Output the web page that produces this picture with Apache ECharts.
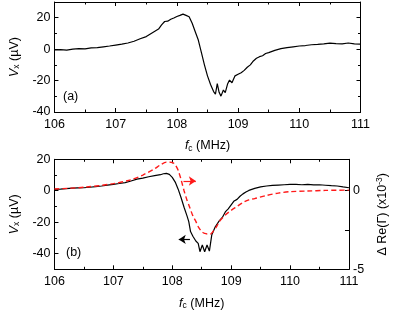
<!DOCTYPE html>
<html><head><meta charset="utf-8">
<script src="https://cdn.jsdelivr.net/npm/echarts@6/dist/echarts.min.js"></script>
<style>html,body{margin:0;padding:0;background:#fff}#c{width:397px;height:316px}</style>
</head><body><div id="c"></div>
<script>
// Panel (a): Vx (µV) vs fc (MHz)
var topFreq = [106.00,106.10,106.20,106.30,106.40,106.50,106.60,106.70,106.80,106.90,107.00,107.10,107.20,107.30,107.40,107.50,107.60,107.70,107.75,107.80,107.85,107.90,107.95,108.00,108.05,108.10,108.15,108.20,108.25,108.30,108.35,108.40,108.45,108.50,108.55,108.60,108.63,108.66,108.69,108.72,108.76,108.79,108.83,108.86,108.90,108.95,109.00,109.05,109.10,109.15,109.20,109.25,109.30,109.35,109.40,109.45,109.50,109.60,109.70,109.80,109.90,110.00,110.10,110.20,110.30,110.40,110.50,110.60,110.70,110.80,110.90,111.00];
var topVx = [-0.5,-0.3,-0.6,0.0,0.3,0.2,0.8,1.0,1.5,2.0,2.6,3.2,3.9,5.0,6.6,8.0,10.5,12.8,15.5,17.6,17.8,19.0,19.8,20.8,21.5,22.3,21.5,20.6,16.5,11.1,5.8,-2.0,-10.0,-17.0,-22.5,-27.0,-28.6,-22.0,-27.5,-29.9,-26.0,-27.7,-22.0,-19.7,-21.4,-17.0,-16.0,-15.0,-13.5,-11.5,-10.0,-7.5,-5.8,-4.8,-4.2,-2.8,-2.2,-0.8,0.3,1.0,1.5,2.0,2.3,2.8,3.0,3.3,3.8,3.5,3.4,3.9,3.3,3.2];

// Panel (b): measured Vx (µV)
var botFreq = [106.00,106.10,106.20,106.30,106.40,106.50,106.60,106.70,106.80,106.90,107.00,107.10,107.20,107.30,107.40,107.50,107.60,107.70,107.80,107.85,107.90,107.95,108.00,108.05,108.10,108.15,108.20,108.25,108.28,108.31,108.35,108.40,108.44,108.47,108.51,108.55,108.59,108.63,108.67,108.73,108.80,108.85,108.90,108.95,109.00,109.05,109.10,109.15,109.20,109.25,109.30,109.40,109.50,109.60,109.70,109.80,109.90,110.00,110.10,110.20,110.30,110.40,110.50,110.60,110.70,110.80,110.90,111.00];
var botVx = [0.9,1.0,1.4,1.6,1.8,1.9,2.2,2.6,3.0,3.6,4.1,4.6,5.2,6.2,7.4,8.0,8.9,9.6,10.2,10.8,11.0,10.4,8.5,5.5,1.0,-4.5,-10.5,-16.0,-19.7,-26.0,-29.0,-32.0,-33.5,-38.8,-34.5,-38.8,-34.5,-38.4,-28.2,-22.9,-19.0,-17.0,-13.5,-11.5,-9.0,-6.5,-5.5,-3.5,-2.0,-0.8,0.2,1.5,2.5,3.0,3.4,3.6,3.8,4.0,4.1,3.8,4.0,3.7,3.8,3.5,3.2,3.0,2.4,1.9];

// Panel (b): calculated Δ Re(Γ) (x10^-3)
var redFreq = [106.0,106.5,107.0,107.3,107.5,107.7,107.8,107.9,108.0,108.05,108.1,108.15,108.2,108.25,108.3,108.35,108.4,108.45,108.5,108.55,108.6,108.65,108.7,108.75,108.8,108.9,109.0,109.1,109.2,109.3,109.4,109.6,109.8,110.0,110.3,110.6,111.0];
var redRe = [0.11,0.22,0.45,0.7,1.0,1.4,1.65,1.82,1.8,1.65,1.3,0.7,0.0,-0.6,-1.1,-1.6,-1.95,-2.35,-2.6,-2.72,-2.75,-2.75,-2.55,-2.3,-1.95,-1.55,-1.25,-1.0,-0.75,-0.58,-0.5,-0.3,-0.15,-0.06,-0.02,0.02,0.04];

var xTicks = [106,107,108,109,110,111];
var vTicks = [-40,-20,0,20];
var reTicks = [-5,0];

function zip(a,b){return a.map(function(v,i){return [v,b[i]];});}

var FONT = 'Liberation Sans';
var axLine = {show: true, onZero:false, lineStyle: {color: '#000', width: 1}};
function xAx(grid, pos, labels){
  var a = {type:'value', gridIndex:grid, position:pos, min:106, max:111, interval:1,
    axisLine: axLine, splitLine:{show:false},
    axisTick:{show:true, inside:true, length:4, lineStyle:{color:'#000'}},
    minorTick:{show:true, splitNumber:2, length:2.5, lineStyle:{color:'#000'}},
    axisLabel:{show:labels, margin:6, fontFamily:FONT, fontSize:12.5, color:'#000'}};
  if(labels){
    a.name = '{i|f}{s|c} (MHz)';
    a.nameLocation = 'middle'; a.nameGap = 27;
    a.nameTextStyle = {fontFamily:FONT, fontSize:12.5, color:'#000',
      rich:{i:{fontStyle:'italic', fontFamily:FONT, fontSize:12.5}, s:{fontSize:8.5, fontFamily:FONT, padding:[5,0,0,0]}}};
  }
  return a;
}
var vName = '{i|V}{s|x} (µV)';
var vNameStyle = {fontFamily:FONT, fontSize:12.5, color:'#000',
  rich:{i:{fontStyle:'italic', fontFamily:FONT, fontSize:12.5}, s:{fontSize:8.5, fontFamily:FONT, padding:[5,0,0,0]}}};

var option = {
  animation:false,
  grid:[{left:50, right:36.5, top:2, height:110}, {left:50, right:36.5, top:159.3, height:110}],
  xAxis:[xAx(0,'bottom',true), xAx(0,'top',false), xAx(1,'bottom',true), xAx(1,'top',false)],
  yAxis:[
    {type:'value', gridIndex:0, position:'left', min:-40, max:30, interval:10,
      axisLine:axLine, splitLine:{show:false},
      axisTick:{show:true, inside:true, length:4, customValues: vTicks, lineStyle:{color:'#000'}},
      axisLabel:{margin:4, fontFamily:FONT, fontSize:12.5, color:'#000', customValues: vTicks},
      name:vName, nameLocation:'middle', nameGap:28, nameTextStyle:vNameStyle},
    {type:'value', gridIndex:0, position:'right', min:-40, max:30, interval:10,
      axisLine:axLine, splitLine:{show:false},
      axisTick:{show:true, inside:true, length:4, customValues: vTicks, lineStyle:{color:'#000'}},
      axisLabel:{show:false}},
    {type:'value', gridIndex:1, position:'left', min:-50, max:20,
      axisLine:axLine, splitLine:{show:false},
      axisTick:{show:true, inside:true, length:4, customValues: vTicks, lineStyle:{color:'#000'}},
      axisLabel:{margin:4, fontFamily:FONT, fontSize:12.5, color:'#000', customValues: vTicks},
      name:vName, nameLocation:'middle', nameGap:28, nameTextStyle:vNameStyle},
    {type:'value', gridIndex:1, position:'right', min:-5, max:2,
      axisLine:axLine, splitLine:{show:false},
      axisTick:{show:true, inside:true, length:4, customValues:[-5,-2.5,0], lineStyle:{color:'#000'}},
      axisLabel:{margin:4, fontFamily:FONT, fontSize:12.5, color:'#000', customValues: reTicks},
      name:'Δ Re(Γ) (x10{sup|-3})', nameLocation:'middle', nameGap:26, nameRotate:90,
      nameTextStyle:{fontFamily:FONT, fontSize:12.5, color:'#000',
        rich:{sup:{fontSize:8.5, fontFamily:FONT, padding:[0,0,6,0]}}}},
    {type:'value', gridIndex:1, position:'left', min:-50, max:20, interval:10,
      axisLine:{show:false, onZero:false}, splitLine:{show:false},
      axisTick:{show:true, inside:true, length:2.5, lineStyle:{color:'#000'}},
      axisLabel:{show:false}},
    {type:'value', gridIndex:0, position:'left', min:-40, max:30, interval:10,
      axisLine:{show:false, onZero:false}, splitLine:{show:false},
      axisTick:{show:true, inside:true, length:2.5, lineStyle:{color:'#000'}},
      axisLabel:{show:false}},
    {type:'value', gridIndex:0, position:'right', min:-40, max:30, interval:10,
      axisLine:{show:false, onZero:false}, splitLine:{show:false},
      axisTick:{show:true, inside:true, length:2.5, lineStyle:{color:'#000'}},
      axisLabel:{show:false}}
  ],
  graphic:[
    {type:'text', left:63, top:90, style:{text:'(a)', font:'12.5px "Liberation Sans"', fill:'#000'}},
    {type:'text', left:66, top:246, style:{text:'(b)', font:'12.5px "Liberation Sans"', fill:'#000'}}
  ],
  series:[
    {type:'line', xAxisIndex:0, yAxisIndex:0, data:zip(topFreq, topVx), symbol:'none',
      lineStyle:{color:'#000', width:1.2}},
    {type:'line', xAxisIndex:2, yAxisIndex:2, data:zip(botFreq, botVx), symbol:'none',
      lineStyle:{color:'#000', width:1.2},
      markLine:{silent:true, symbol:['arrow','none'], symbolSize:[7,7], label:{show:false},
        lineStyle:{color:'#000', type:'solid', width:1.2},
        data:[[{coord:[108.11,-31]},{coord:[108.30,-31]}]]}},
    {type:'line', xAxisIndex:2, yAxisIndex:3, data:zip(redFreq, redRe), symbol:'none', smooth:0.3,
      lineStyle:{color:'#ff1a1a', width:1.4, type:[5,3]},
      markLine:{silent:true, symbol:['none','arrow'], symbolSize:[7,7], label:{show:false},
        lineStyle:{color:'#ff1a1a', type:'solid', width:1.2},
        data:[[{coord:[108.19,0.62]},{coord:[108.40,0.62]}]]}}
  ]
};
var chart = echarts.init(document.getElementById('c'), null, {renderer:'canvas'});
chart.setOption(option);
</script></body></html>
